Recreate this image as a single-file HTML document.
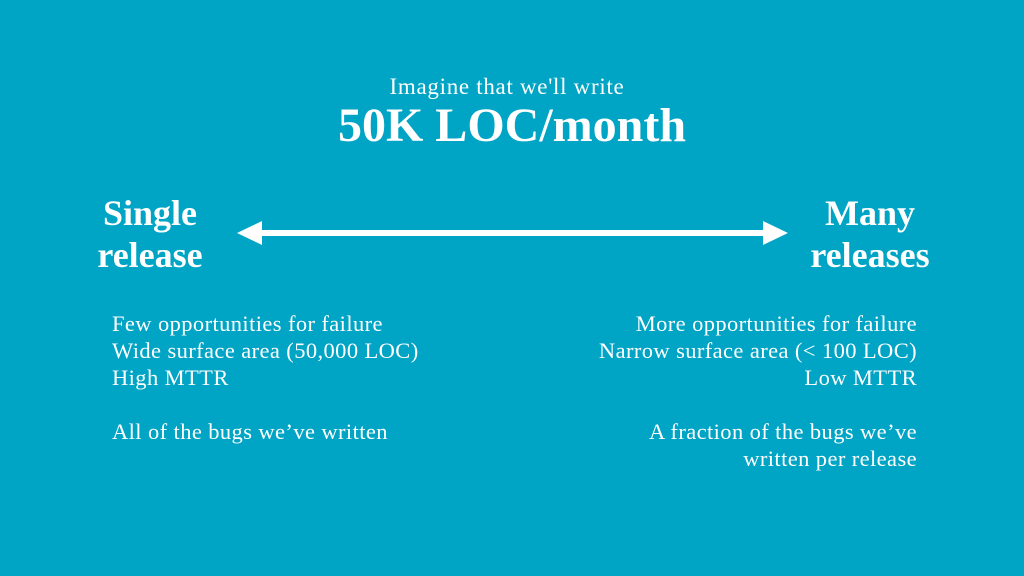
<!DOCTYPE html>
<html><head><meta charset="utf-8"><style>
body{margin:0;width:1024px;height:576px;background:#00a4c4;overflow:hidden;font-family:"Liberation Serif",serif;color:#fff;position:relative}
.a{position:absolute;white-space:nowrap}
</style></head><body>
<div class="a" style="left:0;width:1014px;text-align:center;top:74px;font-size:23px;letter-spacing:0.7px">Imagine that we'll write</div>
<div class="a" style="left:0;width:1024px;text-align:center;top:98px;font-size:48px;font-weight:bold">50K LOC/month</div>
<div class="a" style="left:70px;width:160px;text-align:center;top:192px;font-size:36px;font-weight:bold;line-height:42px">Single<br>release</div>
<div class="a" style="left:790px;width:160px;text-align:center;top:192px;font-size:36px;font-weight:bold;line-height:42px">Many<br>releases</div>
<svg class="a" style="left:0;top:0" width="1024" height="576">
<rect x="258" y="230" width="510" height="6" fill="#fff"/>
<polygon points="237,233 262,221 262,245" fill="#fff"/>
<polygon points="788,233 763,221 763,245" fill="#fff"/>
</svg>
<div class="a" style="left:112px;top:310px;font-size:22.5px;letter-spacing:0.4px;line-height:27px">Few opportunities for failure<br>Wide surface area (50,000 LOC)<br>High MTTR<br><br>All of the bugs we’ve written</div>
<div class="a" style="right:107px;top:310px;font-size:22.5px;letter-spacing:0.4px;line-height:27px;text-align:right">More opportunities for failure<br>Narrow surface area (&lt; 100 LOC)<br>Low MTTR<br><br>A fraction of the bugs we’ve<br>written per release</div>
</body></html>
